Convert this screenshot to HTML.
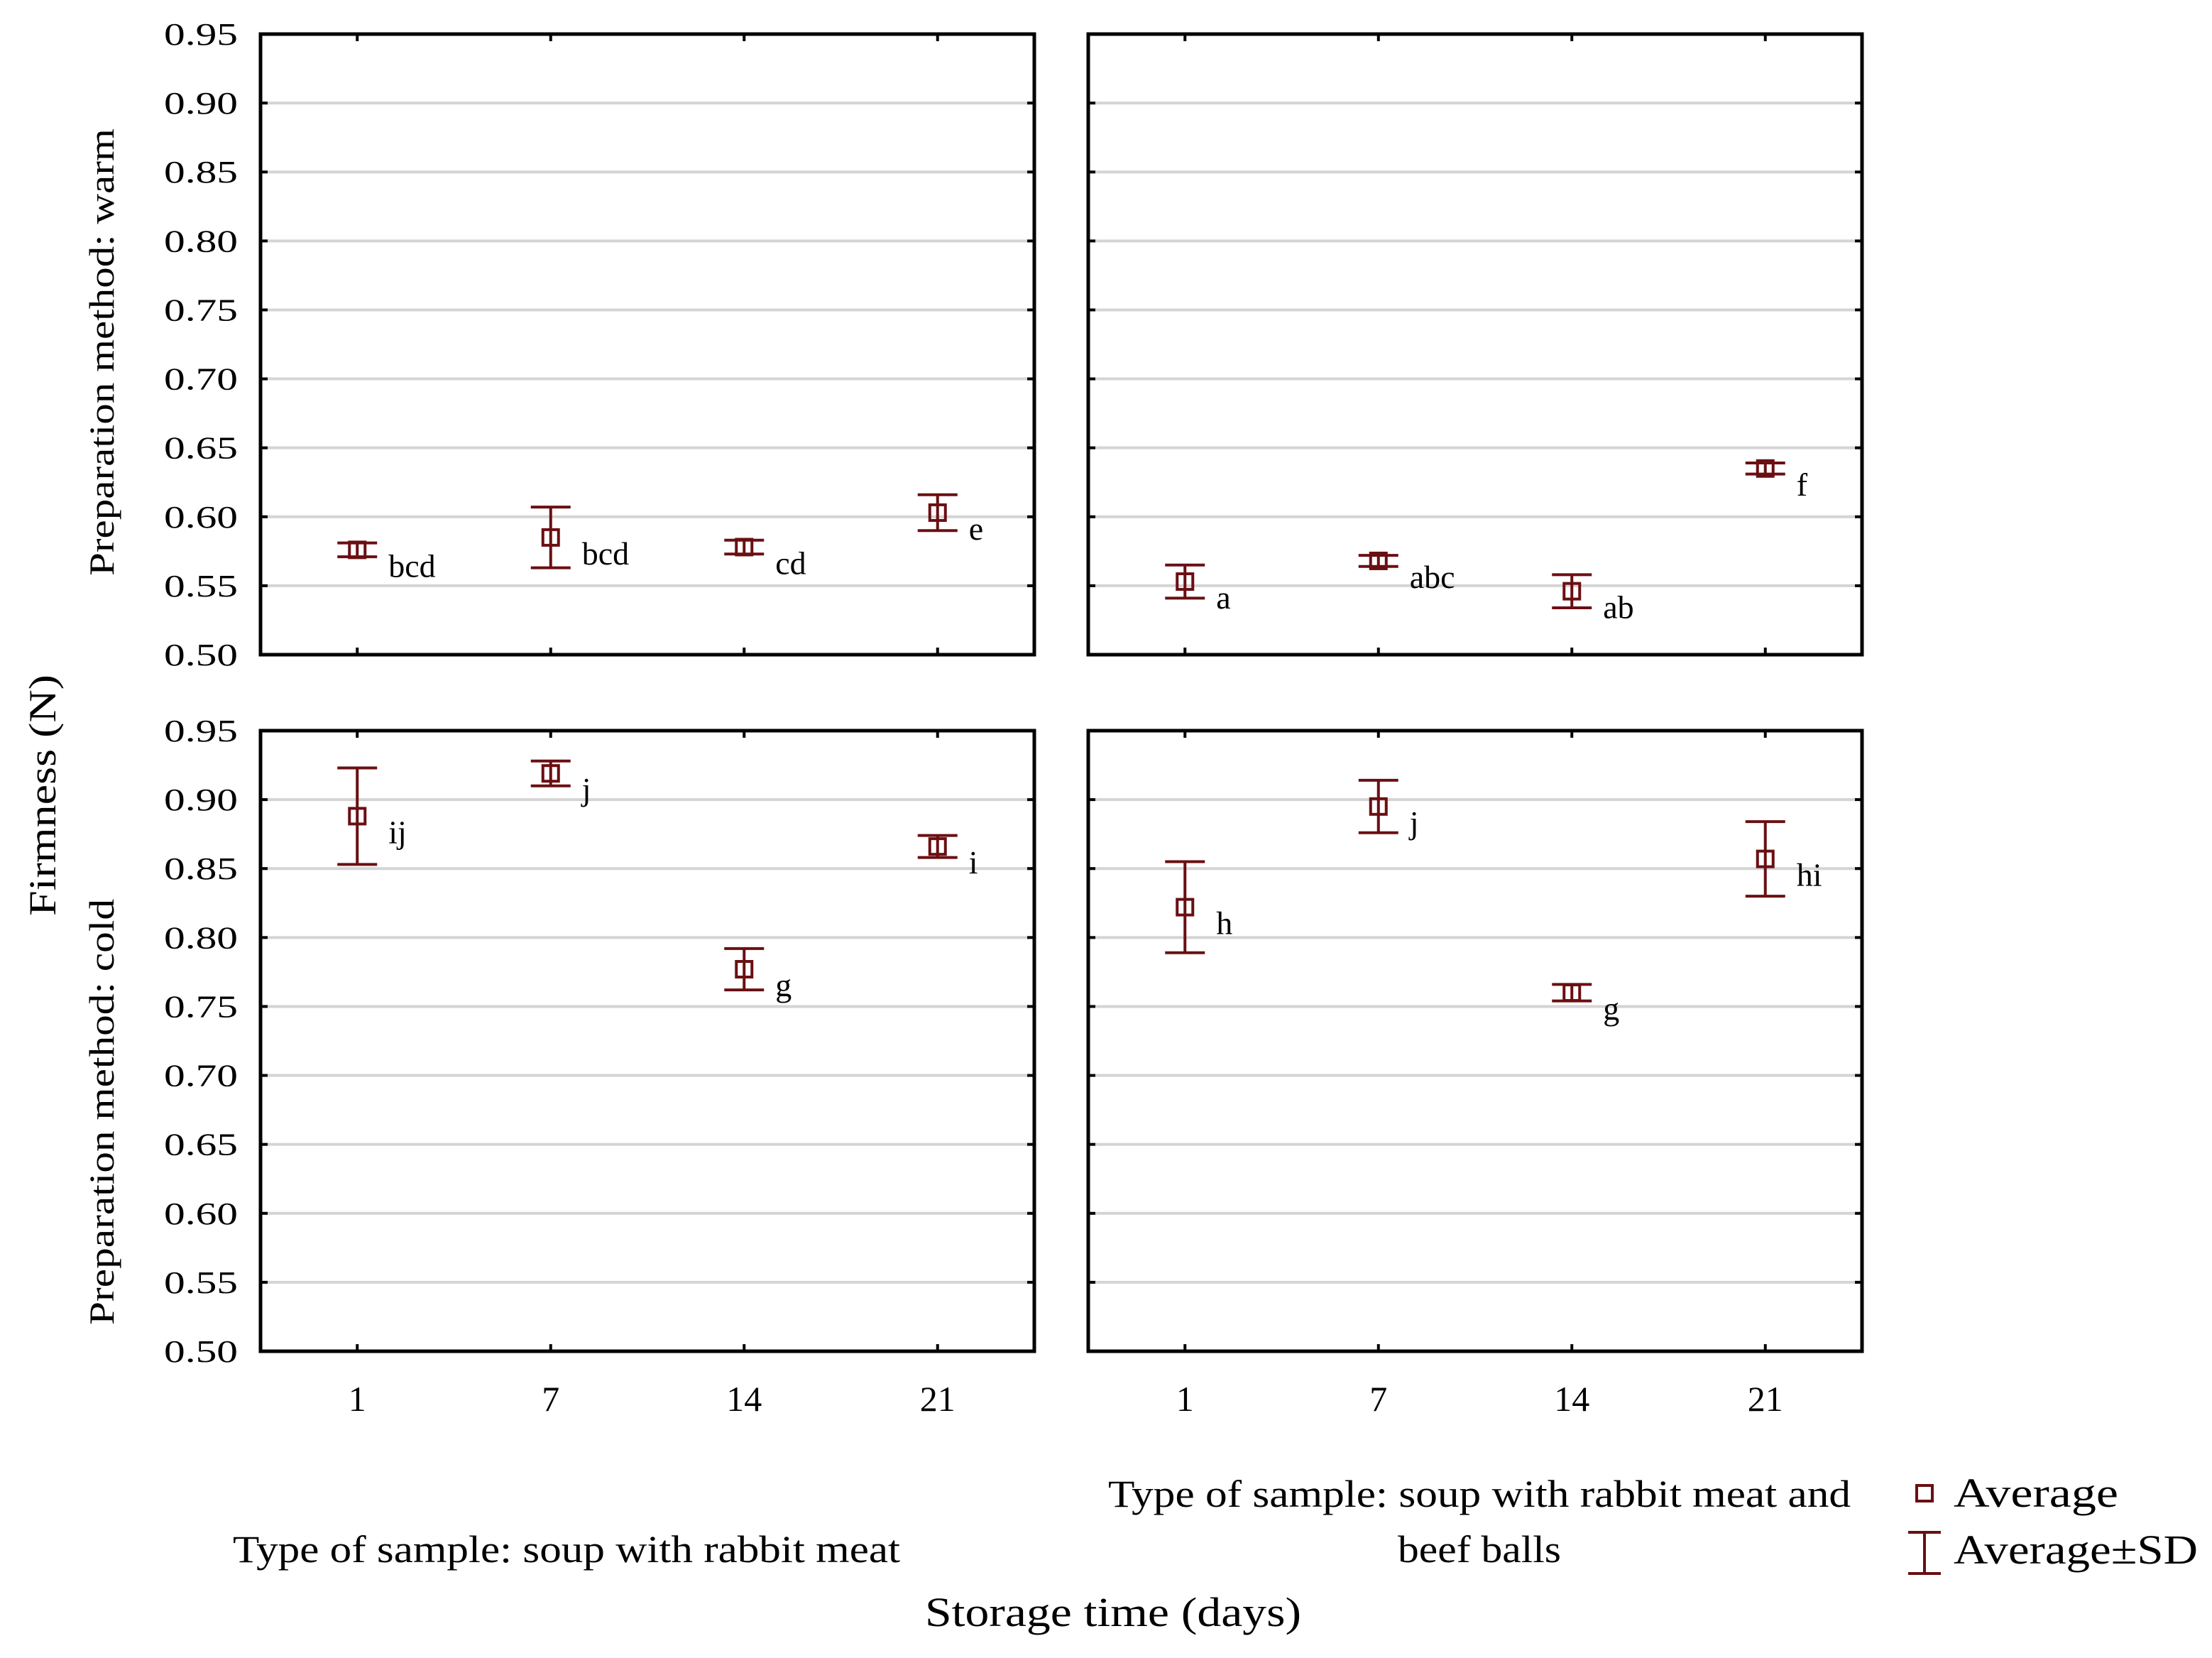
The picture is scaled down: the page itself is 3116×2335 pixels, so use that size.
<!DOCTYPE html>
<html><head><meta charset="utf-8"><style>
html,body{margin:0;padding:0;background:#fff;}
svg{display:block;font-family:"Liberation Serif",serif;}
</style></head><body>
<svg id="chart" width="3116" height="2335" viewBox="0 0 3116 2335" xmlns="http://www.w3.org/2000/svg">
<g id="panels"></g>
<text x="0" y="0" transform="translate(78,1120) rotate(-90)" text-anchor="middle" font-size="54" textLength="340" lengthAdjust="spacingAndGlyphs">Firmness (N)</text>
<text transform="translate(160,496) rotate(-90)" text-anchor="middle" font-size="50" textLength="630" lengthAdjust="spacingAndGlyphs">Preparation method: warm</text>
<text transform="translate(160,1566) rotate(-90)" text-anchor="middle" font-size="50" textLength="600" lengthAdjust="spacingAndGlyphs">Preparation method: cold</text>
<text x="798" y="2200" text-anchor="middle" font-size="54" textLength="940" lengthAdjust="spacingAndGlyphs">Type of sample: soup with rabbit meat</text>
<text x="2084" y="2122" text-anchor="middle" font-size="54" textLength="1046" lengthAdjust="spacingAndGlyphs">Type of sample: soup with rabbit meat and</text>
<text x="2084" y="2200" text-anchor="middle" font-size="54" textLength="230" lengthAdjust="spacingAndGlyphs">beef balls</text>
<text x="1568" y="2290" text-anchor="middle" font-size="58" textLength="530" lengthAdjust="spacingAndGlyphs">Storage time (days)</text>
<g>
<rect x="2700" y="2092" width="22" height="22" fill="none" stroke="#6a0f12" stroke-width="4"/>
<text x="2752" y="2122" font-size="58" textLength="232" lengthAdjust="spacingAndGlyphs">Average</text>
<line x1="2711" y1="2158" x2="2711" y2="2216" stroke="#6a0f12" stroke-width="4"/>
<line x1="2688" y1="2158" x2="2734" y2="2158" stroke="#6a0f12" stroke-width="4"/>
<line x1="2688" y1="2216" x2="2734" y2="2216" stroke="#6a0f12" stroke-width="4"/>
<text x="2752" y="2202" font-size="58" textLength="344" lengthAdjust="spacingAndGlyphs">Average±SD</text>
</g>
</svg>
<script>
const categories = ["1","7","14","21"];
const yTicks = [0.50,0.55,0.60,0.65,0.70,0.75,0.80,0.85,0.90,0.95];
const warmRabbitMean = [0.576,0.585,0.578,0.603];
const warmRabbitSD = [0.005,0.022,0.005,0.013];
const warmRabbitLetters = ["bcd","bcd","cd","e"];
const warmBeefMean = [0.553,0.568,0.546,0.635];
const warmBeefSD = [0.012,0.004,0.012,0.004];
const warmBeefLetters = ["a","abc","ab","f"];
const coldRabbitMean = [0.888,0.919,0.777,0.866];
const coldRabbitSD = [0.035,0.009,0.015,0.008];
const coldRabbitLetters = ["ij","j","g","i"];
const coldBeefMean = [0.822,0.895,0.760,0.857];
const coldBeefSD = [0.033,0.019,0.006,0.027];
const coldBeefLetters = ["h","j","g","hi"];

const NS = "http://www.w3.org/2000/svg";
const COL = "#6a0f12";
const root = document.getElementById('panels');
function mk(tag, attrs, parent){
  const e = document.createElementNS(NS, tag);
  for (const k in attrs) e.setAttribute(k, attrs[k]);
  parent.appendChild(e); return e;
}
const panels = [
  {name:"warm-rabbit", x:367, y:48, mean:warmRabbitMean, sd:warmRabbitSD, let:warmRabbitLetters, yl:true, xl:false},
  {name:"warm-beef", x:1533, y:48, mean:warmBeefMean, sd:warmBeefSD, let:warmBeefLetters, yl:false, xl:false},
  {name:"cold-rabbit", x:367, y:1029, mean:coldRabbitMean, sd:coldRabbitSD, let:coldRabbitLetters, yl:true, xl:true},
  {name:"cold-beef", x:1533, y:1029, mean:coldBeefMean, sd:coldBeefSD, let:coldBeefLetters, yl:false, xl:true}
];
const W = 1090, H = 874, yMin = 0.50, yMax = 0.95;
panels.forEach(p => {
  const g = mk('g', {}, root);
  
  
  const ys = v => p.y + H - (v - yMin) / (yMax - yMin) * H;
  const xs = i => p.x + W * (2 * i + 1) / (2 * categories.length);
  yTicks.forEach(t => {
    const yy = ys(t);
    if (t > yMin && t < yMax) {
      const gl = mk('line', {x1:p.x, x2:p.x+W, y1:yy, y2:yy, stroke:"#d4d4d4", "stroke-width":4}, g);
      
      
    }
    mk('line', {x1:p.x, x2:p.x+10, y1:yy, y2:yy, stroke:"#000", "stroke-width":4}, g);
    mk('line', {x1:p.x+W-10, x2:p.x+W, y1:yy, y2:yy, stroke:"#000", "stroke-width":4}, g);
    if (p.yl) {
      const tl = mk('text', {x:p.x-32, y:yy+15, "text-anchor":"end", "font-size":44, textLength:104, lengthAdjust:"spacingAndGlyphs"}, g);
      
      
      tl.textContent = t.toFixed(2);
    }
  });
  categories.forEach((c, i) => {
    const xx = xs(i);
    mk('line', {x1:xx, x2:xx, y1:p.y, y2:p.y+10, stroke:"#000", "stroke-width":4}, g);
    mk('line', {x1:xx, x2:xx, y1:p.y+H-10, y2:p.y+H, stroke:"#000", "stroke-width":4}, g);
    if (p.xl) {
      const cl = mk('text', {x:xx, y:p.y+H+84, "text-anchor":"middle", "font-size":50}, g);
      
      
      cl.textContent = c;
    }
    const m = p.mean[i], s = p.sd[i];
    const yt = ys(m + s), yb = ys(m - s), ym = ys(m);
    const eb = mk('g', {stroke:COL, "stroke-width":4, fill:"none"}, g);
    
    
    mk('line', {x1:xx, x2:xx, y1:yt, y2:yb}, eb);
    mk('line', {x1:xx-28, x2:xx+28, y1:yt, y2:yt}, eb);
    mk('line', {x1:xx-28, x2:xx+28, y1:yb, y2:yb}, eb);
    const mr = mk('rect', {x:xx-11, y:ym-11, width:22, height:22, fill:"none", stroke:COL, "stroke-width":4}, g);
    
    
    const lt = mk('text', {x:xx+44, y:ym+38, "font-size":46}, g);
    
    
    lt.textContent = p.let[i];
  });
  const fr = mk('rect', {x:p.x, y:p.y, width:W, height:H, fill:"none", stroke:"#000", "stroke-width":5}, g);
  
  
});
</script>
</body></html>
